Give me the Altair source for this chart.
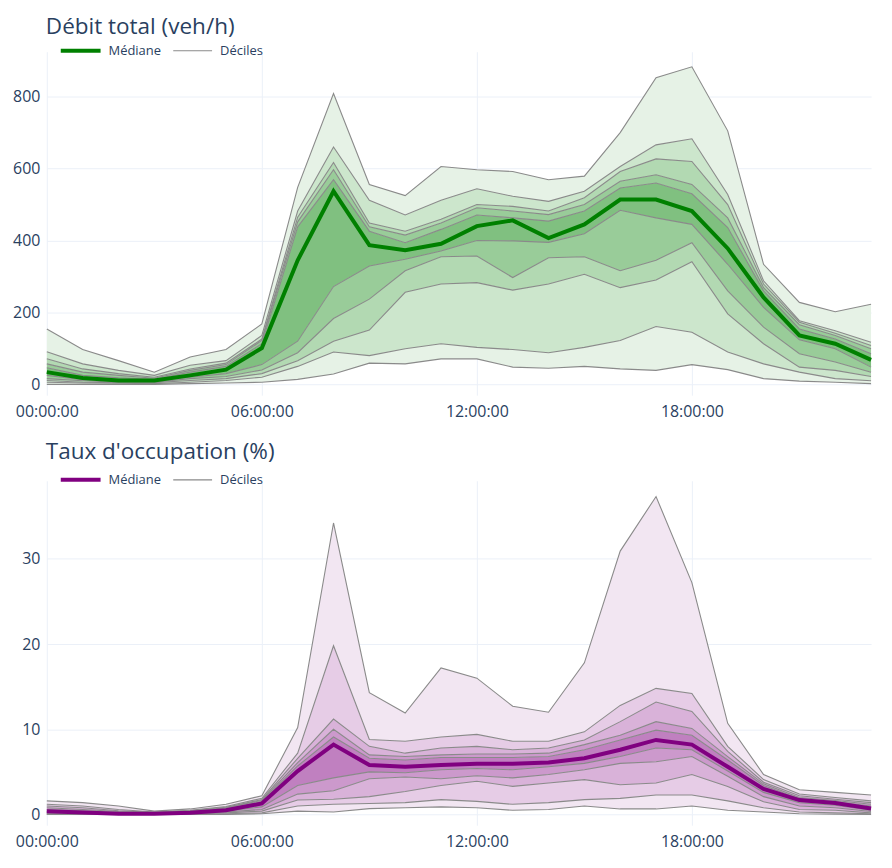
import altair as alt
import pandas as pd

# ---------------- data ----------------
hours = list(range(24))
decile_levels = [0, 10, 20, 30, 40, 50, 60, 70, 80, 90, 100]
xtick_hours = [0, 6, 12, 18]
xtick_labels = ["00:00:00", "06:00:00", "12:00:00", "18:00:00"]
legend_labels = ["Médiane", "Déciles"]
titles = ["Débit total (veh/h)", "Taux d'occupation (%)"]

debit_ticks = [0, 200, 400, 600, 800]
occ_ticks = [0, 10, 20, 30]

# Débit total (veh/h) - deciles per hour
debit_d0 = [0, 0, 0, 0, 2, 4, 6, 14, 29, 59, 57, 71, 71, 48, 45, 50, 43, 39, 55, 41, 16, 9, 6, 2]
debit_d10 = [6, 4, 3, 2, 6, 11, 20, 50, 90, 80, 99, 113, 103, 97, 88, 103, 122, 161, 145, 90, 57, 34, 16, 10]
debit_d20 = [11, 6, 5, 5, 11, 16, 30, 66, 120, 151, 256, 279, 283, 262, 279, 306, 269, 290, 341, 196, 113, 48, 39, 22]
debit_d30 = [16, 10, 6, 6, 16, 22, 40, 88, 183, 237, 316, 355, 357, 297, 352, 355, 316, 345, 394, 260, 159, 85, 62, 34]
debit_d40 = [25, 13, 9, 9, 20, 30, 55, 120, 272, 329, 348, 371, 400, 399, 395, 419, 484, 463, 445, 334, 214, 124, 99, 48]
debit_d50 = [34, 18, 11, 11, 25, 41, 101, 345, 537, 387, 373, 391, 440, 456, 407, 445, 514, 514, 482, 378, 242, 136, 113, 68]
debit_d60 = [46, 25, 18, 14, 34, 50, 113, 438, 569, 426, 394, 431, 471, 463, 454, 482, 546, 560, 530, 436, 260, 154, 126, 85]
debit_d70 = [57, 34, 25, 17, 39, 55, 122, 452, 597, 438, 415, 449, 491, 482, 472, 500, 565, 583, 556, 463, 269, 166, 136, 99]
debit_d80 = [71, 43, 30, 20, 43, 59, 126, 465, 617, 449, 426, 459, 500, 495, 482, 519, 592, 627, 620, 500, 279, 173, 142, 108]
debit_d90 = [91, 57, 39, 25, 53, 66, 136, 482, 660, 512, 471, 512, 544, 523, 509, 537, 606, 666, 683, 528, 288, 177, 149, 117]
debit_d100 = [154, 97, 66, 34, 76, 97, 168, 548, 809, 556, 525, 606, 597, 592, 569, 579, 700, 853, 883, 705, 334, 228, 202, 223]

# Taux d'occupation (%) - deciles per hour
occ_d0 = [0, 0, 0, 0, 0, 0, 0.1, 0.4, 0.3, 0.7, 0.8, 0.9, 0.8, 0.5, 0.6, 1.0, 0.66, 0.66, 1.0, 0.5, 0.3, 0.1, 0.05, 0]
occ_d10 = [0.04, 0.04, 0.02, 0.02, 0.03, 0.1, 0.2, 1.0, 1.2, 1.3, 1.4, 1.75, 1.55, 1.2, 1.4, 1.75, 1.9, 2.3, 2.3, 1.6, 0.8, 0.3, 0.2, 0.1]
occ_d20 = [0.1, 0.08, 0.03, 0.03, 0.05, 0.2, 0.4, 1.7, 1.8, 2.1, 2.7, 3.4, 3.9, 3.3, 3.7, 4.1, 3.5, 3.7, 4.7, 3.3, 1.5, 0.6, 0.5, 0.2]
occ_d30 = [0.2, 0.12, 0.05, 0.05, 0.1, 0.3, 0.6, 2.4, 2.8, 4.2, 4.4, 4.2, 4.55, 4.3, 4.7, 5.25, 6.0, 6.2, 6.8, 4.5, 2.1, 1.0, 0.8, 0.35]
occ_d40 = [0.3, 0.18, 0.08, 0.08, 0.15, 0.4, 0.9, 3.4, 4.3, 5.0, 4.9, 5.25, 5.4, 5.25, 5.6, 6.0, 6.8, 7.8, 7.6, 5.1, 2.6, 1.4, 1.1, 0.5]
occ_d50 = [0.4, 0.25, 0.1, 0.1, 0.2, 0.5, 1.3, 5.1, 8.2, 5.8, 5.6, 5.8, 5.95, 5.95, 6.1, 6.6, 7.6, 8.75, 8.2, 5.6, 3.0, 1.7, 1.35, 0.7]
occ_d60 = [0.6, 0.45, 0.25, 0.15, 0.3, 0.7, 1.5, 5.7, 9.1, 6.6, 6.4, 6.7, 6.7, 6.7, 6.8, 7.6, 8.75, 9.9, 9.3, 6.4, 3.4, 1.85, 1.5, 1.0]
occ_d70 = [0.8, 0.6, 0.35, 0.2, 0.4, 0.8, 1.65, 6.1, 10.0, 7.0, 6.8, 7.0, 7.1, 7.1, 7.2, 8.2, 9.3, 10.9, 10.1, 6.8, 3.6, 2.0, 1.65, 1.2]
occ_d80 = [1.0, 0.8, 0.45, 0.25, 0.45, 0.85, 1.75, 6.6, 11.2, 8.0, 7.2, 7.8, 8.0, 7.6, 7.8, 8.75, 10.9, 13.2, 12.1, 7.4, 3.8, 2.2, 1.8, 1.4]
occ_d90 = [1.2, 1.0, 0.6, 0.3, 0.5, 0.95, 1.9, 7.2, 19.8, 8.8, 8.6, 9.1, 9.4, 8.6, 8.6, 9.7, 12.8, 14.8, 14.2, 8.0, 4.1, 2.4, 2.0, 1.6]
occ_d100 = [1.6, 1.4, 1.0, 0.4, 0.66, 1.2, 2.2, 10.2, 34.2, 14.3, 11.9, 17.2, 16.0, 12.7, 12.0, 17.8, 30.9, 37.3, 27.2, 10.7, 4.7, 2.9, 2.6, 2.3]

debit_deciles = [debit_d0, debit_d10, debit_d20, debit_d30, debit_d40, debit_d50,
                 debit_d60, debit_d70, debit_d80, debit_d90, debit_d100]
occ_deciles = [occ_d0, occ_d10, occ_d20, occ_d30, occ_d40, occ_d50,
               occ_d60, occ_d70, occ_d80, occ_d90, occ_d100]

# ---------------- style ----------------
FONT = "Open Sans"
TXT = "#2a3f5f"
GRID = "#EBF0F8"
DEC_LINE = "#8a8a8a"
W = 828


def blend(rgb, a):
    return "#%02x%02x%02x" % tuple(int(round(255 - a * (255 - c))) for c in rgb)


label_expr = "''"
for hv, lab in reversed(list(zip(xtick_hours, xtick_labels))):
    label_expr = f"datum.value == {hv} ? '{lab}' : ({label_expr})"


def panel(title, deciles, rgb, line_color, y_domain, y_ticks, height, title_y):
    line_rows = []
    for lvl, vals in zip(decile_levels, deciles):
        for h, v in zip(hours, vals):
            line_rows.append({"hour": h, "decile": lvl, "value": v})
    lines_df = pd.DataFrame(line_rows)

    band_rows = []
    for i in range(10):
        level = min(i, 9 - i)
        col = blend(rgb, 0.1 * (level + 1))
        for h, lo, hi in zip(hours, deciles[i], deciles[i + 1]):
            band_rows.append({"hour": h, "band": i, "lo": lo, "hi": hi, "fill": col})
    band_df = pd.DataFrame(band_rows)

    xaxis = alt.Axis(values=xtick_hours, labelExpr=label_expr, title=None, grid=True,
                     gridColor=GRID, gridWidth=1, domain=False, ticks=False,
                     labelFlush=False, labelFontSize=16, labelColor=TXT,
                     labelFont=FONT, labelPadding=8, labelOverlap=False)
    xscale = alt.Scale(domain=[0, 23], nice=False, zero=False)
    yaxis = alt.Axis(values=y_ticks, title=None, grid=True, gridColor=GRID, gridWidth=1,
                     domain=False, ticks=False, labelFontSize=16, labelColor=TXT,
                     labelFont=FONT, labelPadding=7, minExtent=32, maxExtent=32)
    yscale = alt.Scale(domain=y_domain, nice=False, zero=False)

    areas = alt.Chart(band_df).mark_area(interpolate="linear", opacity=1).encode(
        x=alt.X("hour:Q", scale=xscale, axis=xaxis),
        y=alt.Y("lo:Q", scale=yscale, axis=yaxis, stack=None),
        y2="hi:Q",
        color=alt.Color("fill:N", scale=None),
        detail="band:N",
    )
    dec_lines = alt.Chart(lines_df).mark_line(color=DEC_LINE, strokeWidth=1.1).encode(
        x=alt.X("hour:Q", scale=xscale, axis=xaxis),
        y=alt.Y("value:Q", scale=yscale, axis=yaxis),
        detail="decile:N",
    )
    median = alt.Chart(lines_df).transform_filter(alt.datum.decile == 50).mark_line(
        color=line_color, strokeWidth=4).encode(
        x=alt.X("hour:Q", scale=xscale, axis=xaxis),
        y=alt.Y("value:Q", scale=yscale, axis=yaxis),
    )

    leg_df = pd.DataFrame({"label": legend_labels})
    leg_rule_med = alt.Chart(leg_df).transform_filter(
        alt.datum.label == legend_labels[0]).mark_rule(
        color=line_color, strokeWidth=4).encode(
        x=alt.value(14), x2=alt.value(54), y=alt.value(-1))
    leg_rule_dec = alt.Chart(leg_df).transform_filter(
        alt.datum.label == legend_labels[1]).mark_rule(
        color=DEC_LINE, strokeWidth=1.2).encode(
        x=alt.value(127), x2=alt.value(166), y=alt.value(-1))
    leg_txt_med = alt.Chart(leg_df).transform_filter(
        alt.datum.label == legend_labels[0]).mark_text(
        align="left", baseline="middle", font=FONT, fontSize=13, color=TXT).encode(
        text="label:N", x=alt.value(62), y=alt.value(-1))
    leg_txt_dec = alt.Chart(leg_df).transform_filter(
        alt.datum.label == legend_labels[1]).mark_text(
        align="left", baseline="middle", font=FONT, fontSize=13, color=TXT).encode(
        text="label:N", x=alt.value(174), y=alt.value(-1))

    title_txt = alt.Chart(pd.DataFrame({"t": [title]})).mark_text(
        align="left", baseline="alphabetic", font=FONT, fontSize=22.6, color=TXT).encode(
        text="t:N", x=alt.value(-1), y=alt.value(title_y))

    return alt.layer(areas, dec_lines, median, leg_rule_med, leg_rule_dec,
                     leg_txt_med, leg_txt_dec, title_txt).properties(width=W, height=height)


top = panel(titles[0], debit_deciles, (0, 128, 0), "#008000", [-30, 925], debit_ticks, 345, -18)
bottom = panel(titles[1], occ_deciles, (128, 0, 128), "#800080", [-1.25, 39.15], occ_ticks, 346, -21.5)

chart = alt.vconcat(top, bottom, spacing=22).properties(
    padding={"left": 4, "top": 6, "right": 5, "bottom": 5},
    background="white",
).configure_view(stroke=None)

chart.save("out.html", embed_options={"renderer": "svg", "actions": False})
